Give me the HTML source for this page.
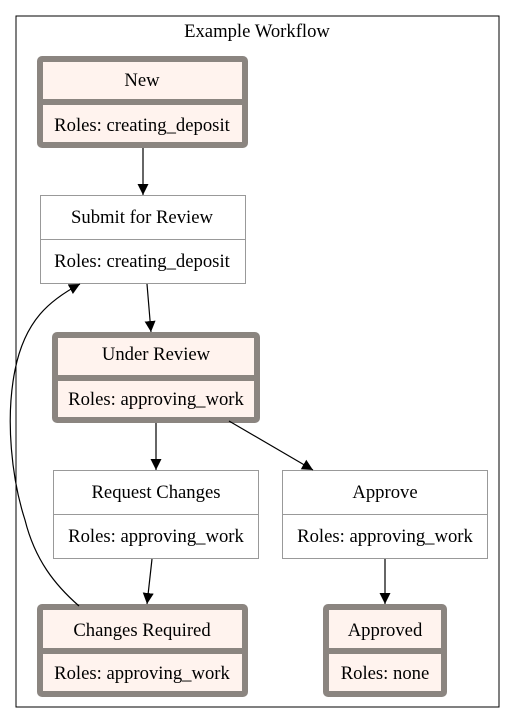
<!DOCTYPE html>
<html><head><style>body{margin:0;background:#fff}svg{display:block}text{font-family:"Liberation Serif",serif;font-size:18.67px;fill:#000}</style></head><body>
<svg width="515" height="723" viewBox="0 0 515 723" xmlns="http://www.w3.org/2000/svg">
<defs><marker id="a" markerWidth="12" markerHeight="12" refX="11" refY="5.5" orient="auto" markerUnits="userSpaceOnUse"><path d="M0,0 L11,5.5 L0,11 z" fill="#000"/></marker></defs>
<rect x="16" y="16" width="483" height="691" fill="#fff" stroke="#000" stroke-width="1"/>
<text x="257" y="37" text-anchor="middle">Example Workflow</text>

<rect x="40" y="59" width="205" height="86" fill="#fff3ee" stroke="#8b8580" stroke-width="6" rx="2"/>
<line x1="40" y1="102" x2="245" y2="102" stroke="#8b8580" stroke-width="6"/>
<text x="142" y="86" text-anchor="middle">New</text>
<text x="142" y="131" text-anchor="middle">Roles: creating_deposit</text>

<rect x="40.5" y="195.5" width="205" height="88" fill="#fff" stroke="#999"/>
<line x1="40" y1="239.5" x2="245" y2="239.5" stroke="#999"/>
<text x="142" y="223" text-anchor="middle">Submit for Review</text>
<text x="142" y="267" text-anchor="middle">Roles: creating_deposit</text>

<rect x="55" y="335" width="202" height="85" fill="#fff3ee" stroke="#8b8580" stroke-width="6" rx="2"/>
<line x1="55" y1="378" x2="257" y2="378" stroke="#8b8580" stroke-width="6"/>
<text x="156" y="360" text-anchor="middle">Under Review</text>
<text x="156" y="405" text-anchor="middle">Roles: approving_work</text>

<rect x="53.5" y="470.5" width="205" height="88" fill="#fff" stroke="#999"/>
<line x1="53" y1="514.5" x2="258" y2="514.5" stroke="#999"/>
<text x="156" y="498" text-anchor="middle">Request Changes</text>
<text x="156" y="542" text-anchor="middle">Roles: approving_work</text>

<rect x="282.5" y="470.5" width="205" height="88" fill="#fff" stroke="#999"/>
<line x1="282" y1="514.5" x2="487" y2="514.5" stroke="#999"/>
<text x="385" y="498" text-anchor="middle">Approve</text>
<text x="385" y="542" text-anchor="middle">Roles: approving_work</text>

<rect x="40" y="607" width="205" height="87" fill="#fff3ee" stroke="#8b8580" stroke-width="6" rx="2"/>
<line x1="40" y1="651" x2="245" y2="651" stroke="#8b8580" stroke-width="6"/>
<text x="142" y="636" text-anchor="middle">Changes Required</text>
<text x="142" y="679" text-anchor="middle">Roles: approving_work</text>

<rect x="326" y="607" width="118" height="87" fill="#fff3ee" stroke="#8b8580" stroke-width="6" rx="2"/>
<line x1="326" y1="651" x2="444" y2="651" stroke="#8b8580" stroke-width="6"/>
<text x="385" y="636" text-anchor="middle">Approved</text>
<text x="385" y="679" text-anchor="middle">Roles: none</text>

<g stroke="#000" stroke-width="1.2" fill="none" marker-end="url(#a)">
<line x1="143" y1="148" x2="143" y2="195"/>
<line x1="147" y1="284" x2="151" y2="332"/>
<line x1="156" y1="423" x2="156" y2="470"/>
<line x1="229" y1="421" x2="313" y2="470"/>
<line x1="152" y1="559" x2="147" y2="604"/>
<line x1="385" y1="559" x2="385" y2="604"/>
<path d="M79,606 C55,585 35,560 25,520 C12,480 5,420 15,370 C25,320 50,300 80,284"/>
</g>
</svg>
</body></html>
